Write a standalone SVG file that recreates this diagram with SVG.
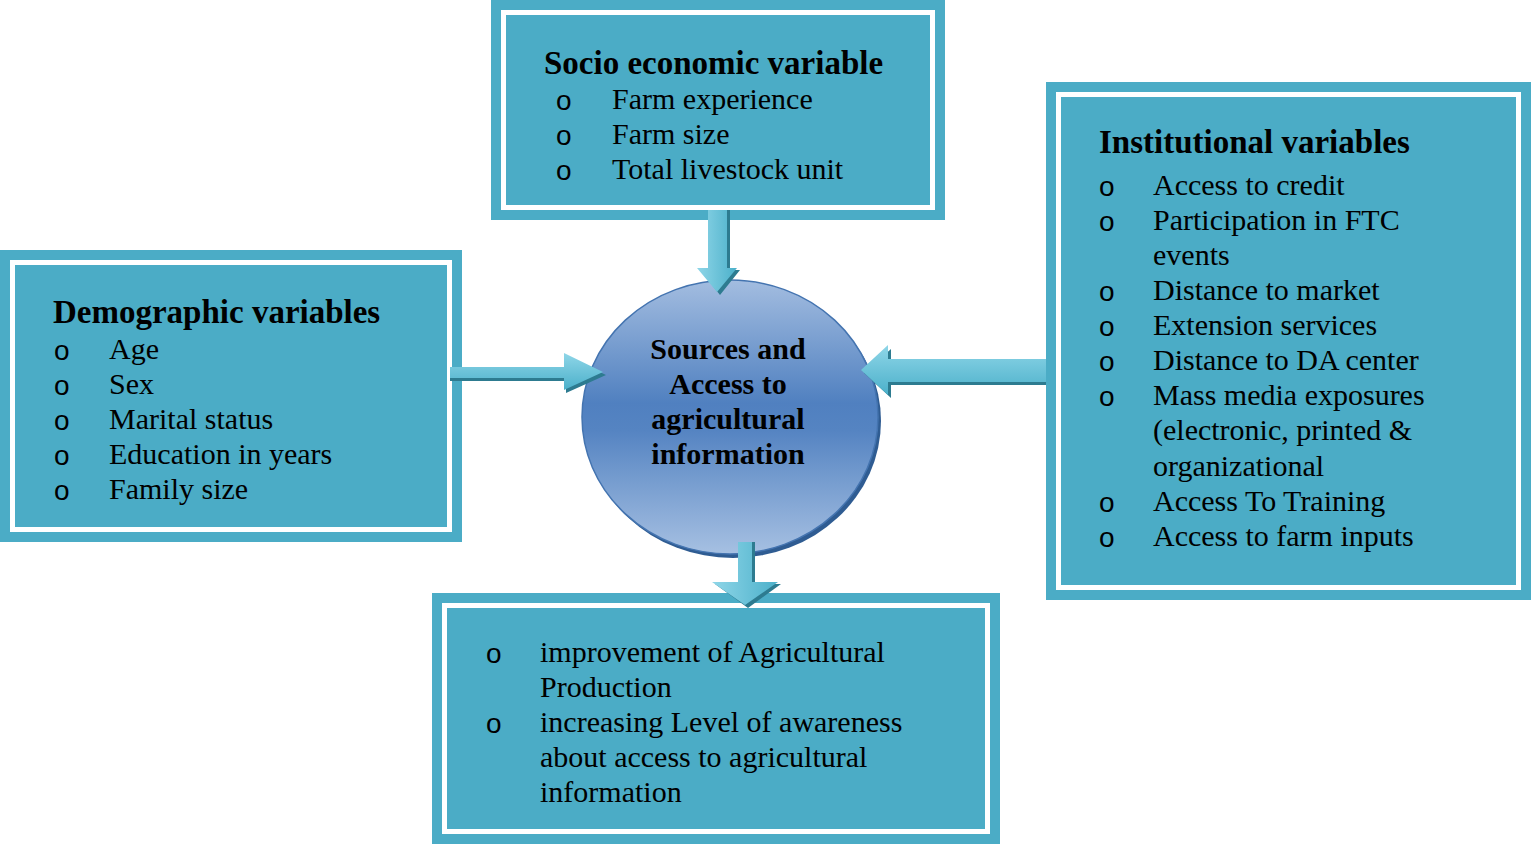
<svg xmlns="http://www.w3.org/2000/svg" width="1535" height="844" viewBox="0 0 1535 844">
<defs>
<linearGradient id="cg" x1="0" y1="0" x2="0" y2="1">
<stop offset="0" stop-color="#a3bde0"/>
<stop offset="0.45" stop-color="#5080c0"/>
<stop offset="0.55" stop-color="#5584c2"/>
<stop offset="1" stop-color="#a6c0e2"/>
</linearGradient>
<linearGradient id="ah" x1="0" y1="0" x2="1" y2="0">
<stop offset="0" stop-color="#8fd6e8"/>
<stop offset="1" stop-color="#4bb0ca"/>
</linearGradient>
<linearGradient id="av" x1="0" y1="0" x2="0" y2="1">
<stop offset="0" stop-color="#8fd6e8"/>
<stop offset="1" stop-color="#4bb0ca"/>
</linearGradient>
<style>
.outer{fill:#4bacc6}
.inner{fill:none;stroke:#ffffff;stroke-width:5}
.h{font-family:"Liberation Serif","Times New Roman",serif;font-weight:bold;font-size:33px;fill:#000}
.t{font-family:"Liberation Serif","Times New Roman",serif;font-size:30px;fill:#000}
.b{font-family:"Liberation Sans",Arial,sans-serif;font-size:28px;fill:#000}
.c{font-family:"Liberation Serif","Times New Roman",serif;font-weight:bold;font-size:30px;fill:#000;text-anchor:middle}
.sh{fill:#2d7b90}
</style>
</defs>
<rect width="1535" height="844" fill="#ffffff"/>

<g id="socio">
<rect class="outer" x="491" y="0" width="454" height="220"/>
<rect class="inner" x="503.5" y="12.5" width="429" height="195"/>
<text class="h" x="544" y="74">Socio economic variable</text>
<text class="b" x="556" y="110">o</text><text class="t" x="612" y="109">Farm experience</text>
<text class="b" x="556" y="145">o</text><text class="t" x="612" y="144">Farm size</text>
<text class="b" x="556" y="180">o</text><text class="t" x="612" y="179">Total livestock unit</text>
</g>

<g id="demographic">
<rect class="outer" x="0" y="250" width="462" height="292"/>
<rect class="inner" x="12.5" y="262.5" width="437" height="267"/>
<text class="h" x="53" y="323">Demographic variables</text>
<text class="b" x="54" y="360">o</text><text class="t" x="109" y="359">Age</text>
<text class="b" x="54" y="395">o</text><text class="t" x="109" y="394">Sex</text>
<text class="b" x="54" y="430">o</text><text class="t" x="109" y="429">Marital status</text>
<text class="b" x="54" y="465">o</text><text class="t" x="109" y="464">Education in years</text>
<text class="b" x="54" y="500">o</text><text class="t" x="109" y="499">Family size</text>
</g>

<g id="institutional">
<rect class="outer" x="1046" y="82" width="485" height="518"/>
<rect class="inner" x="1058.5" y="94.5" width="460" height="493"/>
<text class="h" x="1099" y="153">Institutional variables</text>
<text class="b" x="1099" y="196">o</text><text class="t" x="1153" y="195">Access to credit</text>
<text class="b" x="1099" y="231">o</text><text class="t" x="1153" y="230">Participation in FTC</text>
<text class="t" x="1153" y="265">events</text>
<text class="b" x="1099" y="301">o</text><text class="t" x="1153" y="300">Distance to market</text>
<text class="b" x="1099" y="336">o</text><text class="t" x="1153" y="335">Extension services</text>
<text class="b" x="1099" y="371">o</text><text class="t" x="1153" y="370">Distance to DA center</text>
<text class="b" x="1099" y="406">o</text><text class="t" x="1153" y="405">Mass media exposures</text>
<text class="t" x="1153" y="440">(electronic, printed &amp;</text>
<text class="t" x="1153" y="476">organizational</text>
<text class="b" x="1099" y="512">o</text><text class="t" x="1153" y="511">Access To Training</text>
<text class="b" x="1099" y="547">o</text><text class="t" x="1153" y="546">Access to farm inputs</text>
</g>

<g id="outcome">
<rect class="outer" x="432" y="593" width="568" height="251"/>
<rect class="inner" x="444.5" y="605.5" width="543" height="226"/>
<text class="b" x="486" y="663">o</text><text class="t" x="540" y="662">improvement of Agricultural</text>
<text class="t" x="540" y="697">Production</text>
<text class="b" x="486" y="733">o</text><text class="t" x="540" y="732">increasing Level of awareness</text>
<text class="t" x="540" y="767">about access to agricultural</text>
<text class="t" x="540" y="802">information</text>
</g>

<g id="center">
<ellipse cx="733" cy="421" rx="148" ry="137" fill="#2f5c92"/>
<ellipse cx="730" cy="417" rx="148" ry="137" fill="url(#cg)" stroke="#4474b0" stroke-width="1.5"/>
<text class="c" x="728" y="359">Sources and</text>
<text class="c" x="728" y="394">Access to</text>
<text class="c" x="728" y="429">agricultural</text>
<text class="c" x="728" y="464">information</text>
</g>

<g id="connectors">
<polygon class="sh" points="711,210 730,210 730,270 740,270 720,295 700,270 711,270"/>
<polygon fill="url(#ah)" points="708,210 727,210 727,268 737,268 717,292 697,268 708,268"/>
<polygon class="sh" points="450,371 566,371 566,356 606,375 566,393 566,381 450,381"/>
<polygon fill="url(#av)" points="450,367 564,367 564,353 603,372 564,390 564,378 450,378"/>
<polygon class="sh" points="1046,363 891,363 891,349 864,373 891,398 891,385 1046,385"/>
<polygon fill="url(#av)" points="1046,359 888,359 888,345 861,370 888,395 888,382 1046,382"/>
<polygon class="sh" points="741,542 755,542 755,584 781,584 748,608 715,584 741,584"/>
<polygon fill="url(#ah)" points="738,542 752,542 752,582 778,582 745,605 712,582 738,582"/>
</g>
</svg>
